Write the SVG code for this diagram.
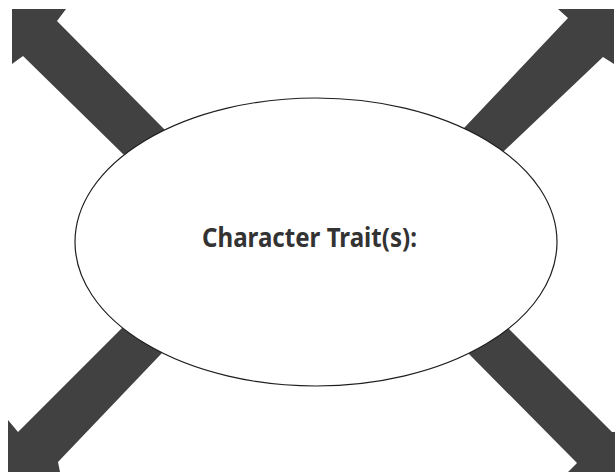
<svg xmlns="http://www.w3.org/2000/svg" width="615" height="476" viewBox="0 0 615 476">
<style>
.arrow{fill:#414141;stroke:none}
.node{fill:#ffffff;stroke:#1e1e1e;stroke-width:1.2}
.label{font-family:"Noto Sans","Open Sans","Liberation Sans",sans-serif;font-weight:bold;font-size:27px;fill:#333333}
</style>
<rect width="615" height="476" fill="#ffffff"/>
<g id="connectors">
<polygon class="arrow" points="12,9 66,9 57,21 163,128 193,158 153,184 123,154 23,56 12,64"/>
<polygon class="arrow" points="558,9 614,9 614,64 603,57 505,150 475,180 435,157 465,127 568,18"/>
<polygon class="arrow" points="8,420 18,432 122,328 152,298 192,323 162,353 58,462 60,472 8,472"/>
<polygon class="arrow" points="510,330 612,432 615,432 615,472 568,472 577,463 468,353 438,323 480,300"/>
</g>
<g id="trait-node">
<ellipse class="node" cx="316" cy="242" rx="241" ry="144"/>
<text class="label" x="202" y="247" textLength="215" lengthAdjust="spacingAndGlyphs">Character Trait(s):</text>
</g>
</svg>
